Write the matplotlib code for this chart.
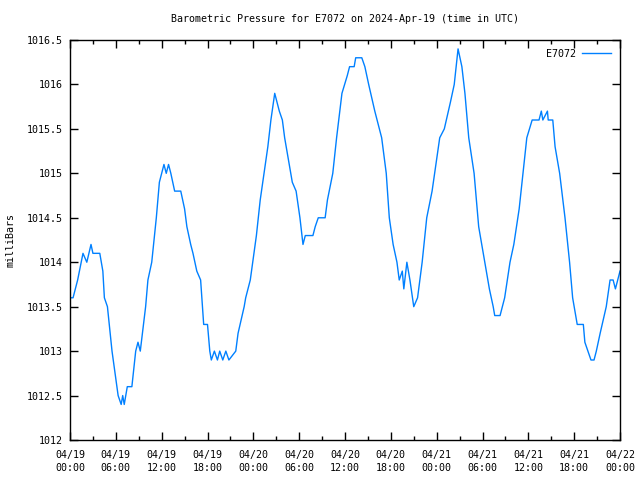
import matplotlib
matplotlib.use("Agg")
import numpy as np
from matplotlib import pyplot as plt

# hours since 2024-04-19 00:00 UTC, pressure in mb
hours = [0.0, 0.4, 1.0, 1.7, 2.2, 2.75, 3.0, 3.9, 4.3, 4.5, 4.9, 5.5, 6.3, 6.7, 6.9, 7.1, 7.5,
         8.1, 8.6, 8.9, 9.2, 9.9, 10.2, 10.7, 11.3, 11.7, 12.3, 12.6, 12.9, 13.2, 13.7, 14.5,
         15.0, 15.3, 15.8, 16.1, 16.6, 17.1, 17.5, 18.0, 18.3, 18.5, 18.9, 19.3, 19.6, 20.0,
         20.4, 20.8, 21.7, 22.0, 22.8, 23.0, 23.6, 24.4, 24.9, 25.4, 25.9, 26.3, 26.8, 27.4,
         27.8, 28.1, 28.5, 29.1, 29.6, 30.1, 30.5, 30.8, 31.8, 32.1, 32.5, 33.4, 33.7, 34.4,
         34.9, 35.6, 36.3, 36.6, 37.2, 37.4, 38.2, 38.6, 39.1, 39.9, 40.8, 41.4, 41.8, 42.3,
         42.8, 43.1, 43.5, 43.7, 44.1, 44.5, 45.0, 45.5, 46.1, 46.7, 47.4, 47.9, 48.4, 49.0,
         49.8, 50.3, 50.8, 51.3, 51.7, 52.2, 52.9, 53.5, 54.3, 54.9, 55.4, 55.6, 56.3, 56.9,
         57.6, 58.1, 58.8, 59.3, 59.8, 60.5, 61.4, 61.7, 61.9, 62.5, 62.6, 63.2, 63.5, 64.1,
         64.8, 65.4, 65.8, 66.4, 67.2, 67.4, 67.8, 68.2, 68.6, 68.9, 69.4, 70.2, 70.7, 71.1,
         71.4, 72.0]
pressure = [1013.6, 1013.6, 1013.8, 1014.1, 1014.0, 1014.2, 1014.1, 1014.1, 1013.9, 1013.6,
            1013.5, 1013.0, 1012.5, 1012.4, 1012.5, 1012.4, 1012.6, 1012.6, 1013.0, 1013.1,
            1013.0, 1013.5, 1013.8, 1014.0, 1014.5, 1014.9, 1015.1, 1015.0, 1015.1, 1015.0,
            1014.8, 1014.8, 1014.6, 1014.4, 1014.2, 1014.1, 1013.9, 1013.8, 1013.3, 1013.3,
            1013.0, 1012.9, 1013.0, 1012.9, 1013.0, 1012.9, 1013.0, 1012.9, 1013.0, 1013.2,
            1013.5, 1013.6, 1013.8, 1014.3, 1014.7, 1015.0, 1015.3, 1015.6, 1015.9, 1015.7,
            1015.6, 1015.4, 1015.2, 1014.9, 1014.8, 1014.5, 1014.2, 1014.3, 1014.3, 1014.4,
            1014.5, 1014.5, 1014.7, 1015.0, 1015.4, 1015.9, 1016.1, 1016.2, 1016.2, 1016.3,
            1016.3, 1016.2, 1016.0, 1015.7, 1015.4, 1015.0, 1014.5, 1014.2, 1014.0, 1013.8,
            1013.9, 1013.7, 1014.0, 1013.8, 1013.5, 1013.6, 1014.0, 1014.5, 1014.8, 1015.1,
            1015.4, 1015.5, 1015.8, 1016.0, 1016.4, 1016.2, 1015.9, 1015.4, 1015.0, 1014.4,
            1014.0, 1013.7, 1013.5, 1013.4, 1013.4, 1013.6, 1014.0, 1014.2, 1014.6, 1015.0,
            1015.4, 1015.6, 1015.6, 1015.7, 1015.6, 1015.7, 1015.6, 1015.6, 1015.3, 1015.0,
            1014.5, 1014.0, 1013.6, 1013.3, 1013.3, 1013.1, 1013.0, 1012.9, 1012.9, 1013.0,
            1013.2, 1013.5, 1013.8, 1013.8, 1013.7, 1013.9]

xtick_labels = ["04/19\n00:00", "04/19\n06:00", "04/19\n12:00", "04/19\n18:00",
                "04/20\n00:00", "04/20\n06:00", "04/20\n12:00", "04/20\n18:00",
                "04/21\n00:00", "04/21\n06:00", "04/21\n12:00", "04/21\n18:00",
                "04/22\n00:00"]
ytick_vals = [1012, 1012.5, 1013, 1013.5, 1014, 1014.5, 1015, 1015.5, 1016, 1016.5]
ytick_labels = ["1012", "1012.5", "1013", "1013.5", "1014", "1014.5", "1015", "1015.5", "1016", "1016.5"]

plt.rcParams['font.family'] = ['DejaVu Sans Mono']
plt.rcParams['font.size'] = 7.2

fig = plt.figure(figsize=(6.4, 4.8), dpi=100)
ax = fig.add_axes([70/640, 40/480, 550/640, 400/480])
ax.plot(hours, pressure, color='#0080ff', lw=1.0, label='E7072')

ax.set_xlim(0, 72)
ax.set_ylim(1012, 1016.5)
ax.set_xticks(np.arange(0, 73, 6))
ax.set_xticklabels(xtick_labels, linespacing=1.45)
ax.set_xticks(np.arange(3, 72, 6), minor=True)
ax.set_yticks(ytick_vals)
ax.set_yticklabels(ytick_labels)
ax.tick_params(which='both', direction='in', top=True, right=True, width=1)
ax.tick_params(axis='x', which='both', pad=7)
ax.tick_params(axis='y', which='both', pad=5)
ax.tick_params(which='major', length=6)
ax.tick_params(which='minor', length=3)
for s in ax.spines.values():
    s.set_linewidth(1)

ax.set_ylabel('milliBars', labelpad=8)
ax.set_title('Barometric Pressure for E7072 on 2024-Apr-19 (time in UTC)', fontsize=7.2, pad=13)
ax.legend(loc='upper right', frameon=False, markerfirst=False, handlelength=2.9,
          borderaxespad=0.5, handletextpad=0.6)

fig.savefig('out.png', dpi=100)
